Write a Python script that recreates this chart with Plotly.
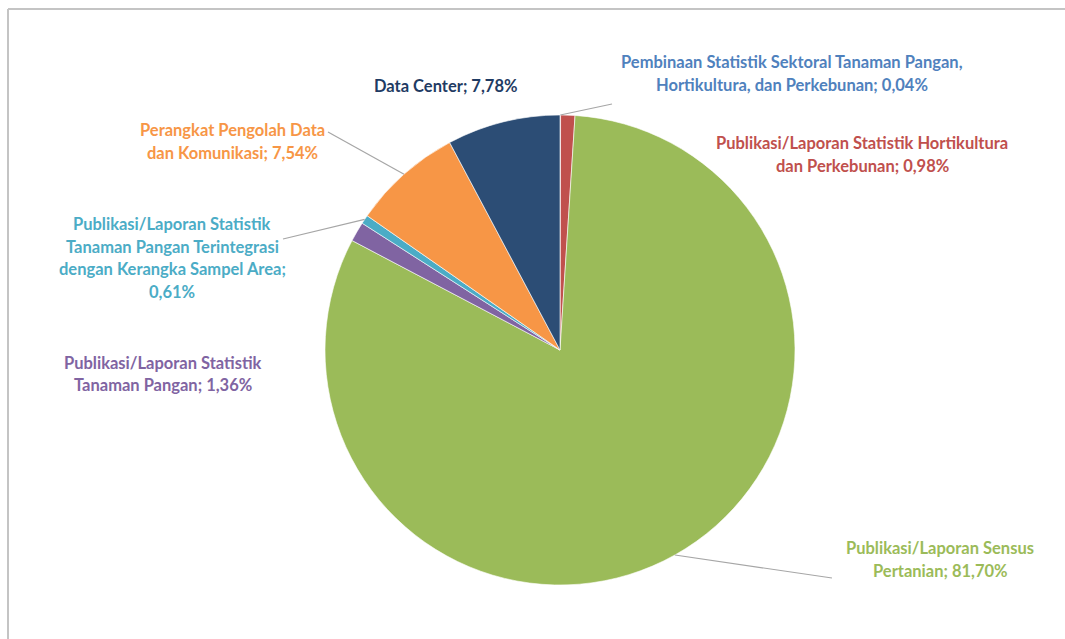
import math
import plotly.graph_objects as go

W, H = 1065, 639

# ---- data (clockwise from 12 o'clock) ----
categories = [
    "Pembinaan Statistik Sektoral Tanaman Pangan, Hortikultura, dan Perkebunan",
    "Publikasi/Laporan Statistik Hortikultura dan Perkebunan",
    "Publikasi/Laporan Sensus Pertanian",
    "Publikasi/Laporan Statistik Tanaman Pangan",
    "Publikasi/Laporan Statistik Tanaman Pangan Terintegrasi dengan Kerangka Sampel Area",
    "Perangkat Pengolah Data dan Komunikasi",
    "Data Center",
]
values = [0.04, 0.98, 81.70, 1.36, 0.61, 7.54, 7.78]
label_lines = [
    ["Pembinaan Statistik Sektoral Tanaman Pangan,", "Hortikultura, dan Perkebunan; {v}"],
    ["Publikasi/Laporan Statistik Hortikultura", "dan Perkebunan; {v}"],
    ["Publikasi/Laporan Sensus", "Pertanian; {v}"],
    ["Publikasi/Laporan Statistik", "Tanaman Pangan; {v}"],
    ["Publikasi/Laporan Statistik", "Tanaman Pangan Terintegrasi", "dengan Kerangka Sampel Area;", "{v}"],
    ["Perangkat Pengolah Data", "dan Komunikasi; {v}"],
    ["Data Center; {v}"],
]

# ---- styling ----
slice_colors = ["#4F81BD", "#C0504D", "#9BBB59", "#8064A2", "#4BACC6", "#F79646", "#2C4D75"]
text_colors = ["#4F81BD", "#C0504D", "#9BBB59", "#8064A2", "#4BACC6", "#F79646", "#1F3B63"]
# label block centres (pixels) and whether a leader line is drawn
label_pos = [(792, 73.5), (862, 154.5), (940, 559.5), (163, 374), (172, 258), (232, 141.5), (445, 86)]
leader_end = [(612, 104), None, (832, 578), None, (283, 239), (328, 132), None]
line_gap = 22.5

cx, cy, R = 560, 350, 235
dom_x = [(cx - R) / W, (cx + R) / W]
dom_y = [1 - (cy + R) / H, 1 - (cy - R) / H]

def px(x):
    return x / W

def py(y):
    return 1 - y / H

fig = go.Figure(go.Pie(
    labels=categories, values=values, sort=False, direction="clockwise", rotation=0,
    marker=dict(colors=slice_colors, line=dict(color="white", width=0.6)),
    textinfo="none", hoverinfo="label+percent", domain=dict(x=dom_x, y=dom_y),
    showlegend=False,
))

annotations = []
shapes = []
total = sum(values)
cum = 0.0
for i, v in enumerate(values):
    mid = (cum + v / 2) / total
    cum += v
    ang = 2 * math.pi * mid
    ex, ey = cx + R * math.sin(ang), cy - R * math.cos(ang)
    vs = f"{v:.2f}".replace(".", ",") + "%"
    lines = [s.format(v=vs) for s in label_lines[i]]
    bx, by = label_pos[i]
    n = len(lines)
    for k, t in enumerate(lines):
        yy = by + (k - (n - 1) / 2) * line_gap
        annotations.append(dict(
            x=px(bx), y=py(yy), xref="paper", yref="paper", text=f"<b>{t}</b>",
            showarrow=False, xanchor="center", yanchor="middle",
            font=dict(family="Lato, Open Sans, sans-serif", size=16.5, color=text_colors[i]),
        ))
    if leader_end[i] is not None:
        lx, ly = leader_end[i]
        shapes.append(dict(type="line", xref="paper", yref="paper",
                           x0=px(ex), y0=py(ey), x1=px(lx), y1=py(ly),
                           line=dict(color="#A6A6A6", width=1.2)))

# frame lines (top and left)
shapes.append(dict(type="line", xref="paper", yref="paper", x0=px(8), y0=py(9), x1=1, y1=py(9),
                   line=dict(color="#C4C4C4", width=2)))
shapes.append(dict(type="line", xref="paper", yref="paper", x0=px(8), y0=py(9), x1=px(8), y1=0,
                   line=dict(color="#C4C4C4", width=2)))

fig.update_layout(
    width=W, height=H, margin=dict(l=0, r=0, t=0, b=0),
    paper_bgcolor="white", plot_bgcolor="white",
    annotations=annotations, shapes=shapes,
)

fig.write_html("out.html")
